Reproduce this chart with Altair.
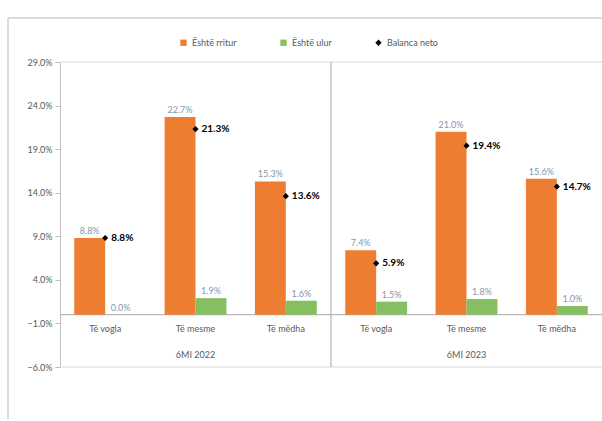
import altair as alt
import pandas as pd

# Source values (percent)
periods = ["6MI 2022", "6MI 2022", "6MI 2022", "6MI 2023", "6MI 2023", "6MI 2023"]
sizes = ["Të vogla", "Të mesme", "Të mëdha", "Të vogla", "Të mesme", "Të mëdha"]
rritur = [8.8, 22.7, 15.3, 7.4, 21.0, 15.6]
ulur = [0.0, 1.9, 1.6, 1.5, 1.8, 1.0]
neto = [8.8, 21.3, 13.6, 5.9, 19.4, 14.7]
y_ticks = [-6, -1, 4, 9, 14, 19, 24, 29]

S_UP = "Është rritur"
S_DOWN = "Është ulur"
S_NET = "Balanca neto"

ORANGE = "#ED7D31"
GREEN = "#85BF62"
LABEL_BLUE = "#8496B0"
GREY_TEXT = "#595959"
AXIS_GREY = "#BFBFBF"
FONT = "Lato"

keys = [f"{p}|{s}" for p, s in zip(periods, sizes)]

bars = pd.DataFrame(
    [{"key": k, "series": S_UP, "value": v} for k, v in zip(keys, rritur)]
    + [{"key": k, "series": S_DOWN, "value": v} for k, v in zip(keys, ulur)]
)
bars["label"] = bars["value"].map(lambda v: f"{v:.1f}%")

net = pd.DataFrame({"key": keys, "series": S_NET, "value": neto})
net["label"] = net["value"].map(lambda v: f"{v:.1f}%")

cats = pd.DataFrame({"key": keys, "name": sizes})
group_df = pd.DataFrame({"key": [keys[1], keys[4]], "name": [periods[1], periods[4]]})

W, H = 542, 305

x_enc = alt.X("key:N", sort=keys, axis=None,
              scale=alt.Scale(paddingInner=0, paddingOuter=0))
y_scale = alt.Scale(domain=[y_ticks[0], y_ticks[-1]], nice=False, zero=False)
y_axis = alt.Axis(
    values=y_ticks,
    labelExpr="format(datum.value, '.1f') + '%'",
    title=None, grid=False, domainColor=AXIS_GREY, tickColor=AXIS_GREY,
    tickSize=5, labelPadding=3, labelFontSize=9, labelColor=GREY_TEXT,
    labelFont=FONT,
)

color_scale = alt.Scale(domain=[S_UP, S_DOWN, S_NET], range=[ORANGE, GREEN, "#000000"])
shape_scale = alt.Scale(domain=[S_UP, S_DOWN, S_NET], range=["square", "square", "diamond"])
legend = alt.Legend(
    title=None, orient="none", direction="horizontal", legendX=119, legendY=-24,
    labelFontSize=9, labelColor=GREY_TEXT, labelFont=FONT, symbolSize=40,
    columnPadding=42, symbolStrokeWidth=0,
)

offset_enc = alt.XOffset("series:N", sort=[S_UP, S_DOWN],
                         scale=alt.Scale(paddingOuter=0.46, paddingInner=0))

bar_layer = alt.Chart(bars).mark_bar().encode(
    x=x_enc,
    xOffset=offset_enc,
    y=alt.Y("value:Q", scale=y_scale, axis=y_axis),
    color=alt.Color("series:N", scale=color_scale, legend=legend),
)

bar_labels = alt.Chart(bars).mark_text(
    dy=-7, fontSize=9, color=LABEL_BLUE, font=FONT
).encode(
    x=x_enc,
    xOffset=offset_enc,
    y=alt.Y("value:Q", scale=y_scale),
    text="label:N",
)

net_points = alt.Chart(net).mark_point(filled=True, opacity=1, size=38).encode(
    x=x_enc,
    y=alt.Y("value:Q", scale=y_scale),
    color=alt.Color("series:N", scale=color_scale, legend=legend),
    shape=alt.Shape("series:N", scale=shape_scale, legend=legend),
)

net_labels = alt.Chart(net).mark_text(
    align="left", baseline="middle", dx=6, fontSize=10, fontWeight="bold",
    color="#000000", font=FONT,
).encode(
    x=x_enc,
    y=alt.Y("value:Q", scale=y_scale),
    text="label:N",
)

zero_line = alt.Chart(pd.DataFrame({"v": [0]})).mark_rule(
    color="#A6A6A6", strokeWidth=1
).encode(y=alt.Y("v:Q", scale=y_scale))

# top and bottom edges of the plot area
edge_lines = alt.Chart(pd.DataFrame({"v": [y_ticks[0], y_ticks[-1]]})).mark_rule(
    color="#D9D9D9", strokeWidth=1
).encode(y=alt.Y("v:Q", scale=y_scale))

separator = alt.Chart(pd.DataFrame({"key": [keys[2]]})).mark_rule(
    color="#A6A6A6", strokeWidth=1
).encode(x=alt.X("key:N", sort=keys, bandPosition=1,
                 scale=alt.Scale(paddingInner=0, paddingOuter=0), axis=None))

# outer chart border: only its left and top edges fall inside the page
frame_left = alt.Chart(pd.DataFrame({"f": [0]})).mark_rule(
    color="#D0D0D0", strokeWidth=1.5, clip=False
).encode(x=alt.value(-52), y=alt.value(-44), y2=alt.value(H + 120))
frame_top = alt.Chart(pd.DataFrame({"f": [0]})).mark_rule(
    color="#D0D0D0", strokeWidth=1.5, clip=False
).encode(x=alt.value(-52), x2=alt.value(W + 60), y=alt.value(-44))

cat_labels = alt.Chart(cats).mark_text(
    dy=14, fontSize=9, color=GREY_TEXT, font=FONT
).encode(
    x=x_enc,
    y=alt.datum(0, scale=y_scale),
    text="name:N",
)

group_labels = alt.Chart(group_df).mark_text(
    dy=40, fontSize=9, color=GREY_TEXT, font=FONT
).encode(
    x=x_enc,
    y=alt.datum(0, scale=y_scale),
    text="name:N",
)

chart = alt.layer(
    frame_left, frame_top, edge_lines, zero_line, separator, bar_layer,
    bar_labels, net_points, net_labels, cat_labels, group_labels,
).resolve_scale(
    x="shared", y="shared"
).properties(
    width=W, height=H,
    autosize=alt.AutoSizeParams(type="none"),
    padding={"left": 60, "top": 62, "right": 0, "bottom": 52},
    background="white",
).configure_view(
    strokeWidth=0,
)

chart.save("out.html", embed_options={"renderer": "svg", "actions": False})
